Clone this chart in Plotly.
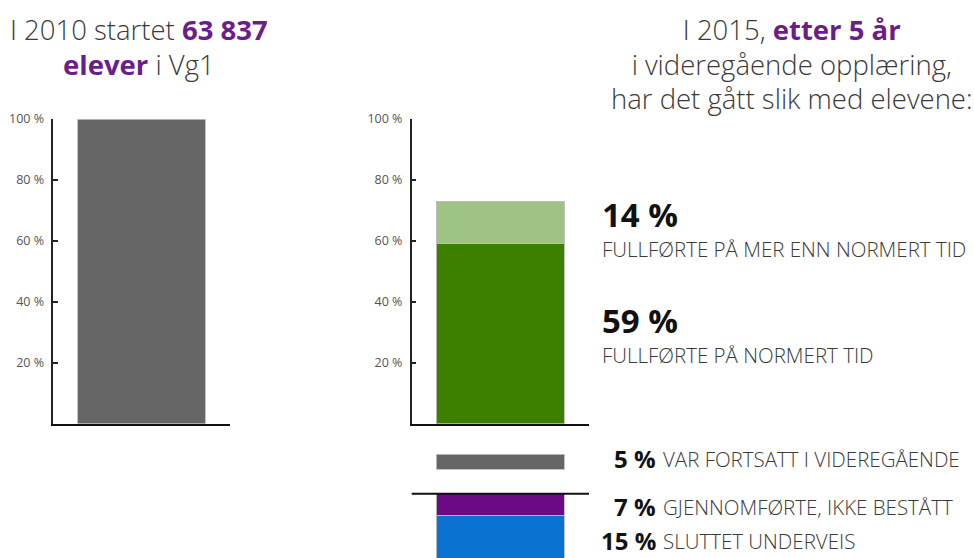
import plotly.graph_objects as go

W, H = 974, 558

# ---- data ----
start_label = ["Vg1 2010"]
start_values = [100]

result_label = ["2015"]
normert_values = [59]        # fullførte på normert tid
mer_enn_values = [14]        # fullførte på mer enn normert tid
fortsatt_values = [5]        # var fortsatt i videregående
ikke_bestatt_values = [7]    # gjennomførte, ikke bestått
sluttet_values = [15]        # sluttet underveis

tick_vals = [20, 40, 60, 80, 100]
tick_text = ["20 %", "40 %", "60 %", "80 %", "100 %"]

GRAY = "#666666"
GREEN = "#3d8000"
LGREEN = "#9fc384"
PURPLE = "#6a0a84"
BLUE = "#0a72d0"
TITLE_PURPLE = "#6b1d8a"
TXT = "#3a3a3a"
FONT = "Open Sans"

# the photographed picture maps page y -> 0.9826*y + 9.07; targets below are picture pixels
KY, BY = 0.9826, 9.07


def page_y(y):
    return (y - BY) / KY


def px(x):
    return x / W


def py(y):
    return 1 - page_y(y) / H


def pyp(y_page):
    return 1 - y_page / H


edge = dict(color="rgba(190,190,190,0.9)", width=1)

fig = go.Figure()

fig.add_trace(go.Bar(x=start_label, y=start_values, marker=dict(color=GRAY, line=edge),
                     width=0.722, xaxis="x", yaxis="y", hoverinfo="skip"))
fig.add_trace(go.Bar(x=result_label, y=normert_values, marker=dict(color=GREEN, line=edge),
                     width=0.722, xaxis="x2", yaxis="y2", hoverinfo="skip"))
fig.add_trace(go.Bar(x=result_label, y=mer_enn_values, marker=dict(color=LGREEN, line=edge),
                     width=0.722, xaxis="x2", yaxis="y2", hoverinfo="skip"))
# lower panel: "still in school" floats above the divider line, the rest go down from it
fig.add_trace(go.Bar(x=result_label, y=fortsatt_values, base=8, marker=dict(color=GRAY, line=edge),
                     width=0.722, xaxis="x3", yaxis="y3", hoverinfo="skip"))
fig.add_trace(go.Bar(x=result_label, y=[-v for v in ikke_bestatt_values], marker=dict(color=PURPLE, line=edge),
                     width=0.722, xaxis="x3", yaxis="y3", hoverinfo="skip"))
fig.add_trace(go.Bar(x=result_label, y=[-v for v in sluttet_values], marker=dict(color=BLUE, line=edge),
                     width=0.722, xaxis="x3", yaxis="y3", hoverinfo="skip"))

ydom = [py(423.3), py(119)]
yaxis_common = dict(range=[0, 100], domain=ydom, tickvals=tick_vals, ticktext=tick_text,
                    ticks="inside", ticklen=5, tickwidth=1.5, tickcolor="#222",
                    showline=True, linecolor="#222", linewidth=1.5, showgrid=False, zeroline=False,
                    tickfont=dict(family=FONT, size=12.5, color="#555"), ticklabelstandoff=5,
                    fixedrange=True)
xaxis_common = dict(range=[-0.5, 0.5], showline=True, linecolor="#111", linewidth=2,
                    showticklabels=False, ticks="", showgrid=False, zeroline=False, fixedrange=True)

# lower panel uses the same px-per-percent scale as the upper panels
scale = (page_y(423.3) - page_y(119)) / 100
zero3 = page_y(493.3)
y3_top = (zero3 - page_y(440)) / scale
y3_bot = -(H - zero3) / scale

fig.update_layout(
    width=W, height=H,
    margin=dict(l=0, r=0, t=0, b=0),
    paper_bgcolor="white", plot_bgcolor="white",
    showlegend=False, barmode="stack",
    xaxis=dict(domain=[px(53.3), px(230)], anchor="y", **xaxis_common),
    yaxis=dict(anchor="x", **yaxis_common),
    xaxis2=dict(domain=[px(411.7), px(589)], anchor="y2", **xaxis_common),
    yaxis2=dict(anchor="x2", **yaxis_common),
    xaxis3=dict(domain=[px(411.7), px(589)], anchor="y3", range=[-0.5, 0.5], visible=False, fixedrange=True),
    yaxis3=dict(domain=[0, py(440)], anchor="x3", range=[y3_bot, y3_top], visible=False, fixedrange=True),
    shapes=[dict(type="line", xref="x3 domain", yref="y3", x0=0, x1=1, y0=0, y1=0,
                 line=dict(color="#111", width=2))],
)

anns = []


def add_text(x, yfrac, text, size, color=TXT, xanchor="left", weight=None, align="left"):
    f = dict(family=FONT, size=size, color=color)
    if weight:
        f["weight"] = weight
    anns.append(dict(x=px(x), y=yfrac, xref="paper", yref="paper", text=text, showarrow=False,
                     xanchor=xanchor, yanchor="middle", align=align, font=f,
                     borderpad=0, borderwidth=0))


def hl(t):
    return f'<span style="color:{TITLE_PURPLE}"><b>{t}</b></span>'


def sz(t, s, extra=""):
    return f'<span style="font-size:{s}px;{extra}">{t}</span>'


# titles: glyph size 27.5 px, line pitch ~34.6 px (base font 26.6)
TS, TB = 27.5, 26.6
left_title = "<br>".join(sz(t, TS) for t in [f"I 2010 startet {hl('63 837')}", f"{hl('elever')} i Vg1"])
right_title = "<br>".join(sz(t, TS) for t in [f"I 2015, {hl('etter 5 år')}", "i videregående opplæring,",
                                               "har det gått slik med elevene:"])
add_text(138.5, pyp(page_y(47.5) - 0.85), left_title, TB, xanchor="center", weight=300, align="center")
add_text(792, pyp(page_y(65) - 0.85), right_title, TB, xanchor="center", weight=300, align="center")


def big_block(value, label, base1_pic, base2_pic):
    b1, b2 = page_y(base1_pic), page_y(base2_pic)
    base = (b2 - b1) / 1.3
    top = b1 - 1.069 * 33
    bot = b2 + 0.293 * 20.5
    txt = (sz(f"<b>{value} %</b>", 33, "fill:#111111;") + "<br>" +
           sz(label, 20.5, "font-weight:300;"))
    add_text(602, pyp((top + bot) / 2), txt, base)


big_block(mer_enn_values[0], "FULLFØRTE PÅ MER ENN NORMERT TID", 226.7, 256)
big_block(normert_values[0], "FULLFØRTE PÅ NORMERT TID", 332.7, 362)

rows = [(fortsatt_values[0], "VAR FORTSATT I VIDEREGÅENDE", pyp(page_y(458))),
        (ikke_bestatt_values[0], "GJENNOMFØRTE, IKKE BESTÅTT", pyp(page_y(506))),
        (sluttet_values[0], "SLUTTET UNDERVEIS", pyp(H - 0.681 * 24 - 1))]
for v, label, yc in rows:
    add_text(656, yc, f"<b>{v} %</b>", 24, color="#111", xanchor="right")
    add_text(663, yc, label, 20.5, weight=300)

fig.update_layout(annotations=anns)

fig.write_html("out.html", config={"displayModeBar": False},
               post_script="document.body.style.margin='0';document.body.style.overflow='hidden';")
